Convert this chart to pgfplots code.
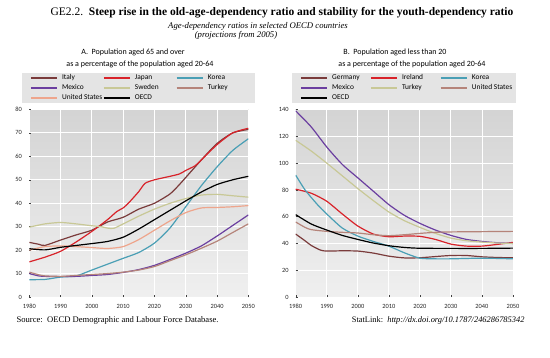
\documentclass[border=0pt]{standalone}
\usepackage{pgfplots}
\pgfplotsset{compat=1.18}
\usepackage{fontspec}
\setmainfont{Liberation Serif}
\newfontfamily\cf{Carlito}
\definecolor{cbrown}{HTML}{7A3B3B}
\definecolor{cred}{HTML}{D8232A}
\definecolor{cteal}{HTML}{4A9FB5}
\definecolor{cpurple}{HTML}{6B3FA0}
\definecolor{ckhaki}{HTML}{C8C896}
\definecolor{crose}{HTML}{B5847A}
\definecolor{csalmon}{HTML}{EEA58C}
\definecolor{lgfill}{HTML}{E4E4E4}
\newlength{\lgtw}
\newcommand\lgx[1]{\makebox[\lgtw][l]{#1}}
\pgfplotsset{
  dep/.style={
    scale only axis,
    xmin=1980, xmax=2050, ymin=0,
    xtick={1980,1990,...,2050},
    axis line style={draw=none},
    axis background/.style={top color=black!17, bottom color=black!6},
    grid=major, grid style={white, line width=0.9pt},
    tick align=inside, tick pos=left, major tick length=2pt,
    tick style={black!75, line width=0.4pt},
    /pgf/number format/assume math mode=true,
    /pgf/number format/1000 sep={},
    ticklabel style={font=\cf\fontsize{6.4}{7}\selectfont, text=black!85},
    xticklabel style={yshift=-4pt},
    legend columns=3,
    legend image code/.code={\draw[##1, line width=1.4pt] (0pt,0pt) -- (26pt,0pt);},
    legend cell align=left,
    legend style={at={(0.5,1.196)}, anchor=north, fill=lgfill, draw=none,
      font=\cf\fontsize{7.4}{8}\selectfont, inner xsep=8pt, inner ysep=2pt,
      row sep=4pt,
      nodes={text height=4.8pt, text depth=1.2pt, inner ysep=0pt, inner xsep=1.5pt},
      /tikz/every odd column/.append style={column sep=3pt},
      /tikz/every even column/.append style={column sep=1.5pt}},
    every axis plot/.append style={line width=1.2pt, no marks, smooth, tension=0.4},
  }
}
\begin{document}
\begin{tikzpicture}
\path[use as bounding box] (0pt,0pt) rectangle (550pt,-357pt);
% titles
\node[font=\fontsize{11.5}{13}\selectfont] at (282pt,-13pt) {GE2.2.\ \ \textbf{Steep rise in the old-age-dependency ratio and stability for the youth-dependency ratio}};
\node[font=\itshape\fontsize{8.7}{10}\selectfont] at (258pt,-26.5pt) {Age-dependency ratios in selected OECD countries};
\node[font=\itshape\fontsize{8.7}{10}\selectfont] at (236pt,-35.5pt) {(projections from 2005)};
\node[font=\cf\fontsize{8}{9}\selectfont] at (133pt,-52.5pt) {A.\ \ Population aged 65 and over};
\node[font=\cf\fontsize{8}{9}\selectfont] at (140pt,-64.5pt) {as a percentage of the population aged 20-64};
\node[font=\cf\fontsize{8}{9}\selectfont] at (395pt,-52.5pt) {B.\ \ Population aged less than 20};
\node[font=\cf\fontsize{8}{9}\selectfont] at (412pt,-64.5pt) {as a percentage of the population aged 20-64};
\node[font=\fontsize{8.6}{10}\selectfont, anchor=west] at (13pt,-320pt) {Source:\ \ OECD Demographic and Labour Force Database.};
\node[font=\fontsize{8.4}{10}\selectfont, anchor=east] at (528pt,-320pt) {StatLink:\ \ \textit{http://dx.doi.org/10.1787/246286785342}};

\setlength{\lgtw}{38pt}
\begin{axis}[dep, at={(29.3pt,-297pt)}, anchor=south west, width=219pt, height=187.5pt,
  ymax=80, ytick={0,10,...,80}, yticklabel style={xshift=-4pt}]
\addplot[cbrown] coordinates {(1980,23.3)(1983,22.5)(1985,22)(1990,24.3)(1995,26.5)(2000,28.5)(2005,32)(2010,34)(2015,37.5)(2020,40)(2025,44)(2028,48)(2030,51)(2033,55.5)(2035,58.5)(2040,65.5)(2045,70)(2050,71.5)};
\addlegendentry{\lgx{Italy}}
\addplot[cred] coordinates {(1980,15)(1985,17)(1990,19.5)(1995,23.5)(2000,28)(2005,33)(2008,36.5)(2010,38)(2012,40.5)(2015,45)(2017,48.5)(2020,50)(2025,51.5)(2028,52.5)(2030,54)(2033,56)(2035,58.5)(2040,65)(2045,70)(2050,72)};
\addlegendentry{\lgx{Japan}}
\addplot[cteal] coordinates {(1980,7.4)(1985,7.5)(1990,8.5)(1995,9)(2000,11.5)(2005,14)(2010,16.5)(2015,19)(2020,23)(2025,29.5)(2030,38.5)(2035,47.5)(2040,55.5)(2045,62.5)(2050,67.5)};
\addlegendentry{\lgx{Korea}}
\addplot[cpurple] coordinates {(1980,10)(1983,9)(1985,8.8)(1990,8.7)(1995,8.8)(2000,9.2)(2005,9.6)(2010,10.5)(2015,11.7)(2020,13.5)(2025,16)(2030,18.7)(2035,21.8)(2040,26)(2045,30.5)(2050,35)};
\addlegendentry{\lgx{Mexico}}
\addplot[ckhaki] coordinates {(1980,29.8)(1985,31.2)(1990,31.8)(1995,31.2)(2000,30.4)(2003,30)(2005,29.4)(2007,29.3)(2010,31.2)(2015,34.5)(2020,37.5)(2025,40)(2030,42)(2035,43.5)(2040,43.8)(2045,43.2)(2050,42.6)};
\addlegendentry{\lgx{Sweden}}
\addplot[crose] coordinates {(1980,10.6)(1983,9.5)(1985,9)(1990,8.8)(1995,9.2)(2000,9.6)(2005,10)(2010,10.6)(2015,11.5)(2020,13)(2025,15.5)(2030,18)(2035,20.8)(2040,23.8)(2045,27.5)(2050,31.2)};
\addlegendentry{\lgx{Turkey}}
\addplot[csalmon] coordinates {(1980,20)(1985,21.5)(1990,21.8)(1995,21.5)(2000,21.1)(2005,20.7)(2010,21.5)(2015,24.5)(2020,28.5)(2025,32.5)(2030,36)(2035,38)(2040,38.2)(2045,38.5)(2050,39)};
\addlegendentry{\lgx{United States}}
\addplot[black] coordinates {(1980,20.6)(1985,20.1)(1990,21.2)(1995,22)(2000,22.8)(2005,23.7)(2010,25.5)(2015,29)(2020,33)(2025,37)(2030,41)(2035,44.8)(2040,48)(2045,50)(2050,51.5)};
\addlegendentry{\lgx{OECD}}
\end{axis}

\setlength{\lgtw}{35pt}
\begin{axis}[dep, at={(295.7pt,-297pt)}, anchor=south west, width=217.3pt, height=187.5pt,
  ymax=140, ytick={0,20,...,140}, yticklabel style={xshift=-3.5pt}]
\addplot[cbrown] coordinates {(1980,47)(1983,42)(1985,38.5)(1988,35)(1990,34.3)(1995,34.5)(2000,34.3)(2005,32.8)(2010,30.5)(2015,29.2)(2020,29.3)(2025,30.2)(2030,31)(2035,31)(2040,30)(2045,29.5)(2050,29.3)};
\addlegendentry{\lgx{Germany}}
\addplot[cred] coordinates {(1980,80.5)(1985,77.5)(1990,71.5)(1995,62)(2000,53)(2005,47)(2010,45)(2015,45.5)(2020,45.3)(2025,43)(2030,39.5)(2035,38)(2040,38)(2045,39.3)(2050,40.8)};
\addlegendentry{\lgx{Ireland}}
\addplot[cteal] coordinates {(1980,91)(1983,80)(1987,69)(1990,62)(1995,51.5)(2000,45.5)(2005,41.5)(2010,38)(2015,33)(2020,29)(2025,28.5)(2030,28.5)(2040,29)(2050,28.5)};
\addlegendentry{\lgx{Korea}}
\addplot[cpurple] coordinates {(1980,139)(1985,127)(1990,112)(1995,99)(2000,89)(2005,79)(2010,69)(2015,61)(2020,55)(2025,50)(2030,46)(2035,43)(2040,41.5)(2045,40.5)(2050,40)};
\addlegendentry{\lgx{Mexico}}
\addplot[ckhaki] coordinates {(1980,117)(1985,109)(1990,100)(1995,90.5)(2000,81)(2005,72)(2010,63.5)(2015,57)(2020,52)(2025,47.5)(2030,44)(2035,42)(2040,41)(2045,40.3)(2050,40)};
\addlegendentry{\lgx{Turkey}}
\addplot[crose] coordinates {(1980,56)(1983,52)(1985,50.3)(1990,49)(1995,48.3)(2000,47.8)(2005,46.5)(2010,45.8)(2015,46.5)(2020,47.5)(2025,48.3)(2030,48.6)(2040,48.8)(2050,49)};
\addlegendentry{\lgx{United States}}
\addplot[black] coordinates {(1980,61.5)(1985,54.5)(1990,50)(1995,46)(2000,43)(2005,40.3)(2010,38.3)(2015,37)(2020,36.4)(2030,36.3)(2040,36.3)(2050,36.5)};
\addlegendentry{\lgx{OECD}}
\end{axis}
\end{tikzpicture}
\end{document}
